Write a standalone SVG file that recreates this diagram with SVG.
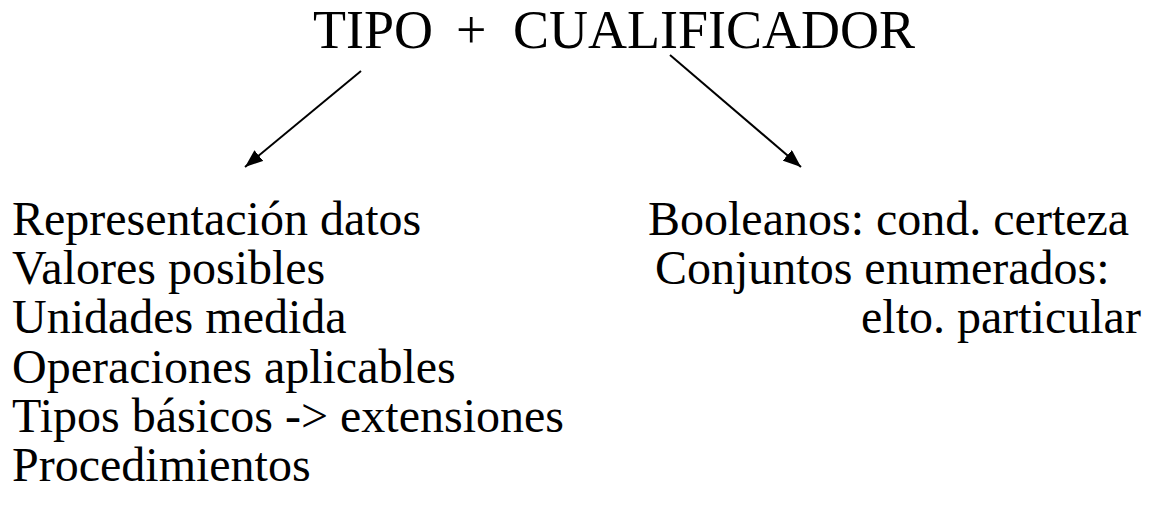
<svg xmlns="http://www.w3.org/2000/svg" width="1151" height="510" viewBox="0 0 1151 510">
<style>
text{font-family:"Liberation Serif","Times New Roman",serif;fill:#000}
.t{font-size:54px}
.b{font-size:48px}
.c{stroke:#000;stroke-width:2;fill:none}
</style>
<defs>
<marker id="ah" viewBox="0 0 18 14" refX="18" refY="7" markerWidth="18" markerHeight="14" markerUnits="userSpaceOnUse" orient="auto">
<path d="M0,0 L18,7 L0,14 z" fill="#000"/>
</marker>
</defs>
<rect width="1151" height="510" fill="#fff"/>
<g id="title">
<text class="t" x="313" y="48">TIPO</text>
<text class="t" x="456" y="48">+</text>
<text class="t" x="513" y="48">CUALIFICADOR</text>
</g>
<g id="connectors">
<line class="c" x1="361" y1="71" x2="245" y2="167" marker-end="url(#ah)"/>
<line class="c" x1="670" y1="55" x2="801" y2="167" marker-end="url(#ah)"/>
</g>
<g id="tipo">
<text class="b" x="12" y="235">Representación datos</text>
<text class="b" x="12" y="284">Valores posibles</text>
<text class="b" x="12" y="333">Unidades medida</text>
<text class="b" x="12" y="383">Operaciones aplicables</text>
<text class="b" x="12" y="432">Tipos básicos -&gt; extensiones</text>
<text class="b" x="12" y="481">Procedimientos</text>
</g>
<g id="cualificador">
<text class="b" x="648" y="235">Booleanos: cond. certeza</text>
<text class="b" x="655" y="284">Conjuntos enumerados:</text>
<text class="b" x="861" y="333">elto. particular</text>
</g>
</svg>
